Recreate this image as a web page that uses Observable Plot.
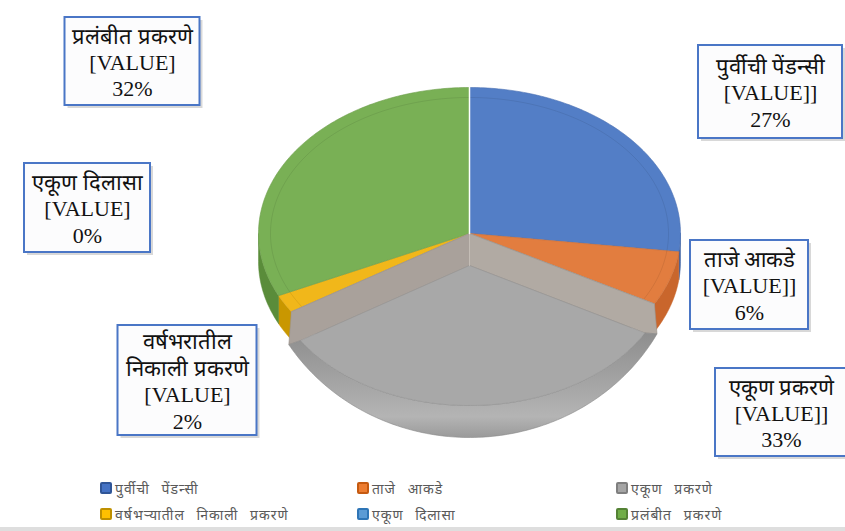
<!DOCTYPE html>
<html>
<head>
<meta charset="utf-8">
<script src="https://cdn.jsdelivr.net/npm/d3@7"></script>
<script src="https://cdn.jsdelivr.net/npm/@observablehq/plot@0.6"></script>
<style>
  body { margin: 0; background: #ffffff; }
  #wrap { position: relative; width: 845px; height: 531px; overflow: hidden; background: #fff; }
  #chart text.lbl, #chart g.lbl text { font-family: "Liberation Serif", "Times New Roman", "DejaVu Serif", serif !important; }
  #legend { position: absolute; left: 0; top: 475px; width: 845px; font-family: "Noto Sans", "Lato", sans-serif; font-size: 14px; color: #595959; }
  .li { position: absolute; display: flex; align-items: center; height: 20px; white-space: nowrap; word-spacing: 7px; letter-spacing: 1px; }
  .sw { width: 8px; height: 8px; border: 2px solid; border-radius: 2px; margin-right: 3px; }
  #bottombar { position: absolute; left: 0; top: 527px; width: 845px; height: 4px; background: #dedede; }
</style>
</head>
<body>
<div id="wrap">
  <div id="chart"></div>
  <div id="legend"></div>
  <div id="bottombar"></div>
</div>
<script>
// ---------------- DATA ----------------
const categories = ["पुर्वीची पेंडन्सी", "ताजे आकडे", "एकूण प्रकरणे", "वर्षभरातील निकाली प्रकरणे", "एकूण दिलासा", "प्रलंबीत प्रकरणे"];
const legendLabels = ["पुर्वीची पेंडन्सी", "ताजे आकडे", "एकूण प्रकरणे", "वर्षभऱ्यातील निकाली प्रकरणे", "एकूण दिलासा", "प्रलंबीत प्रकरणे"];
const percents = [27, 6, 33, 2, 0, 32];
const valueTags = ["[VALUE]]", "[VALUE]]", "[VALUE]]", "[VALUE]", "[VALUE]", "[VALUE]"];

// ---------------- STYLE / LAYOUT ----------------
const topColors  = ["#537ec6", "#e27d3f", "#a8a8a8", "#f1b71a", "#5b9bd5", "#79b055"];
const wallColors = ["#3d62a3", "#c9662c", "#8f8f8f", "#c99700", "#3f7fb8", "#5a8c3a"];
const swatchFill = ["#4472c4", "#ed7d31", "#a5a5a5", "#ffc000", "#5b9bd5", "#70ad47"];
const swatchEdge = ["#2f5597", "#c55a11", "#7f7f7f", "#bf9000", "#2e75b6", "#548235"];
const explodedName = "एकूण प्रकरणे";

const pie = {cx: 469, cy: 233, rx: 211, ry: 146, depth: 28};
const explodedTop = {cx: 469, cy: 265, rx: 200, ry: 140};
const explodedBottom = {cx: 469, cy: 237, rx: 214, ry: 200};

// label box layout: center x, top, width, height, split first line?
const labelLayout = [
  {cx: 770, y1: 45,  w: 144, h: 93,  split: false},
  {cx: 749, y1: 240, w: 118, h: 89,  split: false},
  {cx: 781, y1: 368, w: 132, h: 88,  split: false},
  {cx: 187, y1: 325, w: 139, h: 110, split: true},
  {cx: 87,  y1: 163, w: 126, h: 89,  split: false},
  {cx: 132, y1: 17,  w: 135, h: 88,  split: false}
];
const legendLayout = [
  {x: 100, y: 3}, {x: 357, y: 3}, {x: 616, y: 3},
  {x: 100, y: 29}, {x: 357, y: 29}, {x: 616, y: 29}
];

// ---------------- GEOMETRY (from data) ----------------
const arcs = d3.pie().sort(null).startAngle(0).endAngle(2 * Math.PI)(percents);
const deg = r => r * 180 / Math.PI;
function pt(a, p, dy = 0) { // a in degrees, 0 at 12 o'clock clockwise
  const t = a * Math.PI / 180;
  return {x: p.cx + p.rx * Math.sin(t), y: p.cy - p.ry * Math.cos(t) + dy};
}
function arcPts(a0, a1, p, dy = 0) {
  const n = Math.max(2, Math.ceil(Math.abs(a1 - a0)));
  return d3.range(n + 1).map(i => pt(a0 + (a1 - a0) * i / n, p, dy));
}
function sector(a0, a1, p) {
  const c = {x: p.cx, y: p.cy};
  return [c, ...arcPts(a0, a1, p), c];
}
function wall(a0, a1, p) {
  const s = Math.max(a0, 90), e = Math.min(a1, 270);
  if (e <= s) return null;
  const top = arcPts(s, e, p);
  const bot = arcPts(e, s, p, p.depth);
  return [...top, ...bot, top[0]];
}
const poly = (pts, fill, stroke, sw = 0.6) => Plot.line(pts, {x: "x", y: "y", fill, stroke, strokeWidth: sw});

const marks = [];
const slices = arcs.map((a, i) => ({i, a0: deg(a.startAngle), a1: deg(a.endAngle), name: categories[i]}))
  .filter(s => s.a1 - s.a0 > 0.01);
const normal = slices.filter(s => s.name !== explodedName);
const expl = slices.filter(s => s.name === explodedName);

// walls of non-exploded slices
for (const s of normal) {
  const w = wall(s.a0, s.a1, pie);
  if (w) marks.push(poly(w, wallColors[s.i], wallColors[s.i], 0.5));
}
// top faces
for (const s of normal) {
  marks.push(poly(sector(s.a0, s.a1, pie), topColors[s.i], d3.color(topColors[s.i]).darker(0.3).formatHex()));
  marks.push(Plot.line(arcPts(s.a0, s.a1, {...pie, rx: pie.rx - 12, ry: pie.ry - 10}), {x: "x", y: "y", stroke: "#000", strokeOpacity: 0.08, strokeWidth: 1}));
}
// exploded slice: translucent radial walls, outer wall, top face
for (const s of expl) {
  const c0 = {x: pie.cx, y: pie.cy}, c1 = {x: explodedTop.cx, y: explodedTop.cy};
  const ghost = "#ada59e";
  marks.push(poly(sector(s.a0, s.a1, pie), ghost, ghost));
  marks.push(poly([c0, pt(s.a0, pie), pt(s.a0, explodedBottom), pt(s.a0, explodedTop), c1, c0], "#b1aaa3", "#9a928b"));
  marks.push(poly([c0, pt(s.a1, pie), pt(s.a1, explodedBottom), pt(s.a1, explodedTop), c1, c0], "#a9a19b", "#9a928b"));
  const top = arcPts(s.a0, s.a1, explodedTop);
  const bot = arcPts(s.a1, s.a0, explodedBottom);
  marks.push(poly([...top, ...bot, top[0]], "url(#grayWall)", "#8a8a8a"));
  marks.push(poly(sector(s.a0, s.a1, explodedTop), topColors[s.i], "#969696"));
  marks.push(poly([c0, c1], "none", "#c4bdb6", 1));
}
// white seam at 12 o'clock
marks.push(Plot.line([pt(0, pie), {x: pie.cx, y: pie.cy}], {x: "x", y: "y", stroke: "#ffffff", strokeWidth: 1.5}));

// labels
const labels = categories.map((c, i) => {
  const L = labelLayout[i];
  let name = c;
  if (L.split) { const k = c.indexOf(" "); name = c.slice(0, k) + "\n" + c.slice(k + 1); }
  return {
    x1: L.cx - L.w / 2, x2: L.cx + L.w / 2, y1: L.y1, y2: L.y1 + L.h,
    cx: L.cx, cy: L.y1 + L.h / 2,
    text: name + "\n" + valueTags[i] + "\n" + percents[i] + "%"
  };
});
marks.push(Plot.rect(labels, {x1: d => d.x1 + 3, x2: d => d.x2 + 3, y1: d => d.y1 + 3, y2: d => d.y2 + 3, fill: "#7f7f7f", fillOpacity: 0.3}));
marks.push(Plot.rect(labels, {x1: "x1", x2: "x2", y1: "y1", y2: "y2", fill: "#fcfcfd", stroke: "#4a76c6", strokeWidth: 2}));
marks.push(Plot.text(labels, {x: "cx", y: "cy", text: "text", fontSize: 22, lineHeight: 1.2, fill: "#111", fontFamily: "Liberation Serif", ariaLabel: "lbl"}));

const chart = Plot.plot({
  width: 845, height: 470, margin: 0,
  x: {domain: [0, 845], range: [0, 845], axis: null},
  y: {domain: [0, 470], range: [0, 470], axis: null},
  style: {background: "transparent", overflow: "visible"},
  marks
});
const ns = "http://www.w3.org/2000/svg";
const defs = document.createElementNS(ns, "defs");
defs.innerHTML = `<linearGradient id="grayWall" x1="0" y1="0" x2="0" y2="1">
  <stop offset="0" stop-color="#8e8e8e"/>
  <stop offset="0.45" stop-color="#a3a3a3"/>
  <stop offset="0.8" stop-color="#b4b4b4"/>
  <stop offset="1" stop-color="#9a9a9a"/></linearGradient>`;
chart.insertBefore(defs, chart.firstChild);
chart.querySelectorAll('g[aria-label="lbl"]').forEach(g => g.setAttribute("class", "lbl"));
document.getElementById("chart").appendChild(chart);

// legend
const leg = document.getElementById("legend");
legendLabels.forEach((t, i) => {
  const L = legendLayout[i];
  const d = document.createElement("div");
  d.className = "li";
  d.style.left = L.x + "px"; d.style.top = L.y + "px";
  d.innerHTML = `<span class="sw" style="background:${swatchFill[i]};border-color:${swatchEdge[i]}"></span><span>${t}</span>`;
  leg.appendChild(d);
});
</script>
</body>
</html>
